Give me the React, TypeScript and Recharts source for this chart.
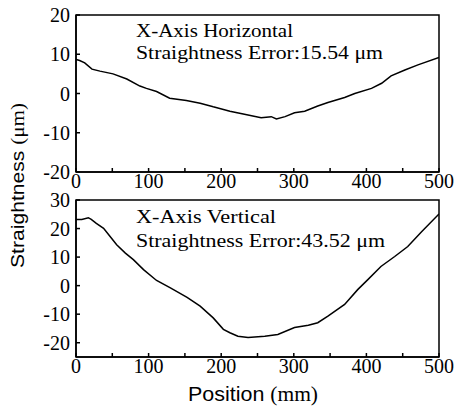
import React from 'react';
import { LineChart, Line, XAxis, YAxis, ReferenceArea } from 'recharts';

const horizPos = [0, 5, 12, 22, 33, 51, 70, 88, 97, 111, 129, 152, 171, 189, 198, 212, 232, 255, 269, 276, 288, 301, 315, 333, 347, 370, 384, 407, 421, 434, 453, 471, 500];
const horizVal = [8.7, 8.4, 7.8, 6.2, 5.7, 5.0, 3.7, 1.9, 1.3, 0.5, -1.2, -1.8, -2.5, -3.4, -3.8, -4.5, -5.3, -6.2, -5.9, -6.5, -5.9, -4.9, -4.5, -3.2, -2.3, -1.0, 0.0, 1.3, 2.6, 4.5, 6.0, 7.3, 9.2];

const vertPos = [0, 8, 17, 21, 28, 38, 47, 56, 68, 79, 93, 111, 130, 153, 171, 189, 203, 212, 223, 237, 260, 278, 301, 320, 333, 347, 370, 388, 402, 420, 439, 457, 476, 500];
const vertVal = [23.2, 23.2, 23.8, 23.2, 21.8, 20.1, 17.2, 14.3, 11.4, 9.1, 5.6, 1.8, -0.8, -4.1, -7.2, -11.3, -15.3, -16.5, -17.7, -18.2, -17.7, -17.1, -14.7, -13.9, -13.0, -10.7, -6.6, -1.4, 2.1, 6.7, 10.2, 13.7, 18.9, 25.1];

const xTicks = [0, 50, 100, 150, 200, 250, 300, 350, 400, 450, 500];
const topYTicks = [-20, -10, 0, 10, 20];
const bottomYTicks = [-20, -10, 0, 10, 20, 30];

const topTitle = 'X-Axis Horizontal';
const topError = 'Straightness Error:15.54 \u03bcm';
const bottomTitle = 'X-Axis Vertical';
const bottomError = 'Straightness Error:43.52 \u03bcm';

const horizData = horizPos.map((x, i) => ({ x, y: horizVal[i] }));
const vertData = vertPos.map((x, i) => ({ x, y: vertVal[i] }));

const serif = '"Liberation Serif", "Times New Roman", serif';
const sans = '"Liberation Sans", Arial, sans-serif';
const tickStyle = { fontFamily: serif, fontSize: 20, fill: '#000' };

const xFmt = (v: number) => (v % 100 === 0 ? String(v) : '');

function Panel({ data, domain, yTicks, top, height, xAxisHeight }: any) {
  return (
    <div style={{ position: 'absolute', left: 0, top }}>
      <LineChart width={457} height={height} data={data} margin={{ top: 15, right: 18, left: 16, bottom: 0 }}>
        <XAxis
          type="number"
          dataKey="x"
          domain={[0, 500]}
          ticks={xTicks}
          tickFormatter={xFmt}
          interval={0}
          height={xAxisHeight}
          tickSize={-4}
          tickMargin={6}
          stroke="#000"
          strokeWidth={1.5}
          tick={tickStyle}
          allowDataOverflow
        />
        <YAxis
          type="number"
          domain={domain}
          ticks={yTicks}
          interval={0}
          width={60}
          tickSize={-4}
          tickMargin={10}
          stroke="#000"
          strokeWidth={1.5}
          tick={tickStyle}
          allowDataOverflow
        />
        <ReferenceArea x1={0} x2={500} y1={domain[0]} y2={domain[1]} fill="none" stroke="#000" strokeWidth={1.5} />
        <Line type="linear" dataKey="y" stroke="#000" strokeWidth={1.5} dot={false} isAnimationActive={false} />
      </LineChart>
    </div>
  );
}

export default function App() {
  return (
    <div style={{ position: 'absolute', left: 0, top: 0, width: 457, height: 410, background: '#fff' }}>
      <Panel data={horizData} domain={[-20, 20]} yTicks={topYTicks} top={0} height={200} xAxisHeight={28} />
      <Panel data={vertData} domain={[-25, 30]} yTicks={bottomYTicks} top={185} height={210} xAxisHeight={38} />
      <svg width={457} height={410} style={{ position: 'absolute', left: 0, top: 0, pointerEvents: 'none' }}>
        <text x={136} y={37} fontFamily={serif} fontSize={19} textLength={157} lengthAdjust="spacingAndGlyphs">{topTitle}</text>
        <text x={136} y={59} fontFamily={serif} fontSize={19} textLength={247} lengthAdjust="spacingAndGlyphs">{topError}</text>
        <text x={136} y={223} fontFamily={serif} fontSize={19} textLength={140} lengthAdjust="spacingAndGlyphs">{bottomTitle}</text>
        <text x={136} y={247} fontFamily={serif} fontSize={19} textLength={249} lengthAdjust="spacingAndGlyphs">{bottomError}</text>
        <text x={24} y={185.5} textAnchor="middle" transform="rotate(-90, 24, 185.5)" fontSize={19} textLength={165} lengthAdjust="spacingAndGlyphs">
          <tspan fontFamily={sans}>Straightness </tspan>
          <tspan fontFamily={serif}>({'\u03bc'}m)</tspan>
        </text>
        <text x={253} y={401} textAnchor="middle" fontSize={20} textLength={130} lengthAdjust="spacingAndGlyphs">
          <tspan fontFamily={sans}>Position </tspan>
          <tspan fontFamily={serif}>(mm)</tspan>
        </text>
      </svg>
    </div>
  );
}
